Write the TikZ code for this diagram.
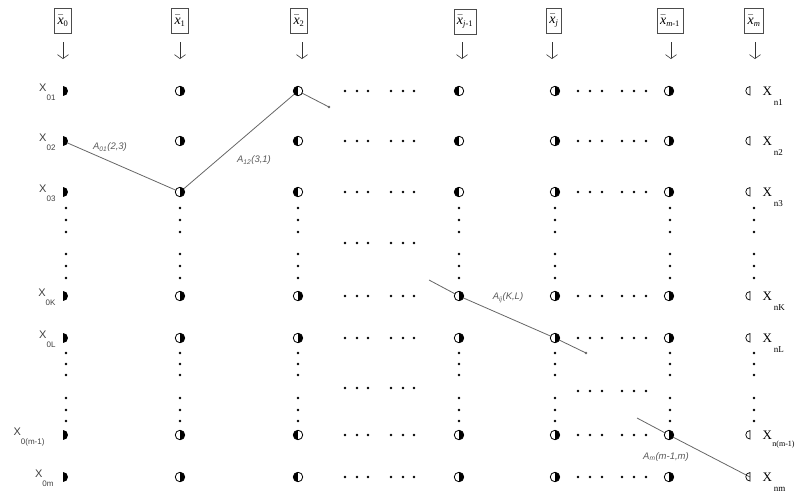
\documentclass[tikz,border=0pt]{standalone}
\usepackage{fontspec}
\setmainfont{Liberation Serif}
\newfontfamily\lblfont{Liberation Sans}
\usetikzlibrary{arrows.meta,backgrounds}
\newcommand\lowsub[1]{\raisebox{-9pt}{\fontsize{8}{9}\selectfont #1}}
\newcommand\rlowsub[1]{\hspace{2pt}\raisebox{-10pt}{\fontsize{9}{10}\selectfont #1}}
\newcommand\hx[1]{$\bar{\mbox{\textit{x}}}_{\mbox{\fontsize{8.5}{9}\selectfont #1}}$}
\begin{document}
\begin{tikzpicture}[x=1pt,y=-1pt,
  symR/.style={circle,draw=black,line width=0.8pt,fill=white,minimum size=9.5pt,inner sep=0pt,
    path picture={\fill[black] (path picture bounding box.north) rectangle (path picture bounding box.south east);}},
  symL/.style={circle,draw=black,line width=0.8pt,fill=white,minimum size=9.5pt,inner sep=0pt,
    path picture={\fill[black] (path picture bounding box.north west) rectangle (path picture bounding box.south);}},
  symD/.style={circle,minimum size=10pt,inner sep=0pt,
    path picture={\fill[black] (path picture bounding box.north) rectangle (path picture bounding box.south east);}},
  symO/.style={circle,minimum size=8.5pt,inner sep=0pt},
  hdr/.style={draw=black!70,line width=0.7pt,inner sep=3pt,minimum height=25pt,font=\fontsize{14}{16}\selectfont},
  dnarrow/.style={-{Straight Barb[length=4pt,width=11pt]},line width=0.6pt,black!80},
  conn/.style={draw=black!60,line width=0.8pt},
  albl/.style={font=\lblfont\itshape\fontsize{9.5}{11}\selectfont,text=black!65},
  llbl/.style={anchor=base east,font=\lblfont\fontsize{11}{12}\selectfont,text=black!75},
  rlbl/.style={anchor=base west,font=\fontsize{13}{15}\selectfont},
]
\useasboundingbox (0,0) rectangle (796,493);
% headers
\node[hdr] (h0) at (63,21) {\hx{0}};
\node[hdr] (h1) at (180,21) {\hx{1}};
\node[hdr] (h2) at (299,21) {\hx{2}};
\node[hdr] (h3) at (465,22) {\hx{\textit{j}-1}};
\node[hdr] (h4) at (554,21) {\hx{\textit{j}}};
\node[hdr] (h5) at (670,21) {\hx{\textit{m}-1}};
\node[hdr] (h6) at (754,21) {\hx{\textit{m}}};
% arrows
\foreach \x/\i in {63/0,180/1,302/2,462/3,552/4,671/5,755/6}{
  \coordinate (at\i) at (\x,42);
  \coordinate (ab\i) at (\x,59);
  \draw[dnarrow] (at\i) -- (ab\i);
}
% symbols
\foreach \y/\r in {91/1,141/2,192/3,296/4,338/5,435/6,477/7}{
  \node[symD] (c0r\r) at (63,\y) {};
  \node[symR] (c1r\r) at (180,\y) {};
  \node[symR] (c4r\r) at (555,\y) {};
  \node[symR] (c5r\r) at (669,\y) {};
  \node[symO] (c6r\r) at (750,\y) {};
  \draw[line width=0.7pt] (c6r\r.north) arc (90:270:4.25pt) -- cycle;
}
\foreach \y/\r in {91/1,141/2,192/3,435/6,477/7}{
  \node[symL] (c2r\r) at (298,\y) {};
}
\foreach \y/\r in {296/4,338/5}{
  \node[symR] (c2r\r) at (298,\y) {};
}
\foreach \y/\r in {91/1,141/2,192/3}{
  \node[symL] (c3r\r) at (459,\y) {};
}
\foreach \y/\r in {296/4,338/5,435/6,477/7}{
  \node[symR] (c3r\r) at (459,\y) {};
}
% vertical dots
\foreach \x in {66,180,298,459,555,670,754}{
  \foreach \y in {208,220,232,254,266,278,353,364,375,398,410,421}{
    \fill (\x,\y) circle (1.4);
  }
}
% horizontal dots
\foreach \y in {91,141,192,243,296,338,388,435,477}{
  \foreach \x in {345,357,368,391,403,414}{
    \fill (\x,\y) circle (1.4);
  }
}
\foreach \y in {91,141,192,296,338,391,435,477}{
  \foreach \x in {578,590,602,622,634,646}{
    \fill (\x,\y) circle (1.4);
  }
}
% left labels
\node[llbl] (l1) at (59,91) {X\lowsub{01}};
\node[llbl] (l2) at (59,141) {X\lowsub{02}};
\node[llbl] (l3) at (59,192) {X\lowsub{03}};
\node[llbl] (l4) at (59,296) {X\lowsub{0K}};
\node[llbl] (l5) at (59,338) {X\lowsub{0L}};
\node[llbl] (l6) at (48,435) {X\lowsub{0(m-1)}};
\node[llbl] (l7) at (57,477) {X\lowsub{0m}};
% right labels
\node[rlbl] (r1) at (759,95) {X\rlowsub{n1}};
\node[rlbl] (r2) at (759,145) {X\rlowsub{n2}};
\node[rlbl] (r3) at (759,196) {X\rlowsub{n3}};
\node[rlbl] (r4) at (759,300) {X\rlowsub{nK}};
\node[rlbl] (r5) at (759,342) {X\rlowsub{nL}};
\node[rlbl] (r6) at (759,439) {X\hspace{0.5pt}\raisebox{-7pt}{\fontsize{8}{9}\selectfont n(m-1)}};
\node[rlbl] (r7) at (759,481) {X\rlowsub{nm}};
% connectors
\coordinate (e1) at (329,107);
\coordinate (s3) at (429,280);
\coordinate (e3) at (586,353);
\coordinate (s4) at (637,418);
\begin{scope}[on background layer]
  \draw[conn] (c0r2.center) -- (c1r3.center) -- (c2r1.center) -- (e1);
  \draw[conn] (s3) -- (c3r4.center) -- (c4r5.center) -- (e3);
  \draw[conn] (s4) -- (c5r6.center) -- (c6r7.center);
\end{scope}
\fill[black!60] (e1) circle (1.3);
\fill[black!60] (e3) circle (1.3);
% connector labels
\node[albl] (t1) at (110,147) {A\textsubscript{01}(2,3)};
\node[albl] (t2) at (254,160) {A\textsubscript{12}(3,1)};
\node[albl] (t3) at (508,298) {A\textsubscript{ij}(K,L)};
\node[albl] (t4) at (666,457) {A\textsubscript{m}(m-1,m)};
\end{tikzpicture}
\end{document}
